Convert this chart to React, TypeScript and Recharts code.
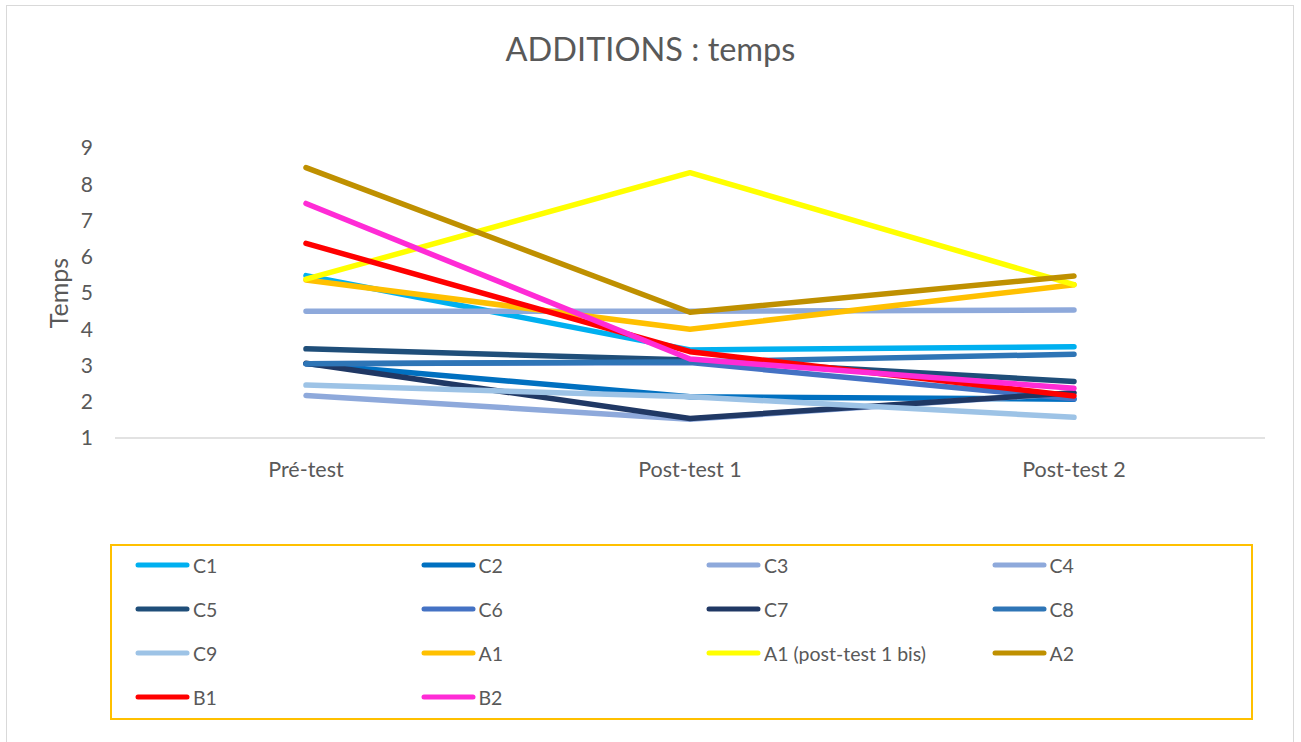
import { LineChart, Line, XAxis, YAxis, Legend } from "recharts";

const categories = ["Pré-test", "Post-test 1", "Post-test 2"];

const c1 = [5.48, 3.43, 3.52];
const c2 = [3.05, 2.14, 2.07];
const c3 = [2.17, 1.52, 2.24];
const c4 = [4.5, 4.5, 4.53];
const c5 = [3.46, 3.15, 2.56];
const c6 = [3.05, 3.08, 2.08];
const c7 = [3.06, 1.54, 2.25];
const c8 = [3.05, 3.1, 3.31];
const c9 = [2.46, 2.14, 1.57];
const a1 = [5.36, 4.0, 5.23];
const a1bis = [5.38, 8.32, 5.23];
const a2 = [8.46, 4.47, 5.47];
const b1 = [6.37, 3.38, 2.16];
const b2 = [7.47, 3.18, 2.37];

const seriesNames = ["C1", "C2", "C3", "C4", "C5", "C6", "C7", "C8", "C9", "A1", "A1 (post-test 1 bis)", "A2", "B1", "B2"];
const seriesValues = [c1, c2, c3, c4, c5, c6, c7, c8, c9, a1, a1bis, a2, b1, b2];
const seriesColors = [
  "#00B0F0", "#0070C0", "#8EA9DB", "#8EA9DB", "#1F4E79", "#4472C4", "#203864",
  "#2E75B6", "#9DC3E6", "#FFC000", "#FFFF00", "#BF9000", "#FF0000", "#FF2BD6",
];
const yTicks = [1, 2, 3, 4, 5, 6, 7, 8, 9];

const data = categories.map((name, i) => {
  const row: Record<string, any> = { name };
  seriesNames.forEach((s, k) => {
    row[s] = seriesValues[k][i];
  });
  return row;
});

const FONT = "Lato, 'Open Sans', sans-serif";
const TEXT = "#595959";

function LegendBox() {
  return (
    <div
      style={{
        width: 1143,
        height: 176,
        border: "2px solid #FFC000",
        boxSizing: "border-box",
        position: "relative",
        fontFamily: FONT,
        fontSize: 19.5,
        color: TEXT,
      }}
    >
      {seriesNames.map((s, k) => {
        const col = k % 4;
        const row = Math.floor(k / 4);
        return (
          <div
            key={s}
            style={{
              position: "absolute",
              left: 23 + col * 285.5,
              top: 5 + row * 44,
              height: 28,
              display: "flex",
              alignItems: "center",
              whiteSpace: "nowrap",
            }}
          >
            <svg width={58} height={10}>
              <line x1={3} y1={5} x2={52} y2={5} stroke={seriesColors[k]} strokeWidth={5} strokeLinecap="round" />
            </svg>
            <span>{s}</span>
          </div>
        );
      })}
    </div>
  );
}

export default function App() {
  return (
    <div style={{ position: "absolute", left: 0, top: 0, width: 1301, height: 742, background: "#fff", overflow: "hidden" }}>
      <div
        style={{
          position: "absolute",
          left: 6,
          top: 5,
          width: 1288,
          height: 760,
          border: "1px solid #D9D9D9",
          boxSizing: "border-box",
        }}
      />
      <div
        style={{
          position: "absolute",
          left: 0,
          top: 29,
          width: 1301,
          textAlign: "center",
          fontFamily: FONT,
          fontSize: 32.5,
          color: TEXT,
        }}
      >
        ADDITIONS : temps
      </div>
      <LineChart
        width={1301}
        height={742}
        data={data}
        margin={{ top: 148, right: 36, bottom: 264, left: 35 }}
        style={{ position: "absolute", left: 0, top: 0 }}
      >
        <XAxis
          dataKey="name"
          axisLine={{ stroke: "#D9D9D9", strokeWidth: 1.5 }}
          tickLine={false}
          padding={{ left: 191, right: 191 }}
          tick={{ fill: TEXT, fontSize: 21.5, fontFamily: FONT }}
          tickMargin={18}
          height={40}
        />
        <YAxis
          width={80}
          domain={[1, 9]}
          ticks={yTicks}
          axisLine={false}
          tickLine={false}
          tickSize={0}
          tickMargin={22}
          interval={0}
          tick={{ fill: TEXT, fontSize: 21, fontFamily: FONT }}
          label={{
            content: ({ viewBox }: any) => {
              const x = viewBox.x + 23;
              const y = viewBox.y + viewBox.height / 2;
              return (
                <text
                  x={x}
                  y={y}
                  transform={`rotate(-90, ${x}, ${y})`}
                  textAnchor="middle"
                  dominantBaseline="central"
                  fill={TEXT}
                  fontSize={25}
                  fontFamily={FONT}
                >
                  Temps
                </text>
              );
            },
          }}
        />
        <Legend
          verticalAlign="middle"
          align="center"
          wrapperStyle={{ position: "absolute", left: 110, top: 544, width: 1143, height: 176 }}
          content={() => <LegendBox />}
        />
        {seriesNames.map((s, k) => (
          <Line
            key={s}
            type="linear"
            dataKey={s}
            stroke={seriesColors[k]}
            strokeWidth={5.5}
            strokeLinecap="round"
            strokeLinejoin="round"
            dot={false}
            activeDot={false}
            isAnimationActive={false}
          />
        ))}
      </LineChart>
    </div>
  );
}
